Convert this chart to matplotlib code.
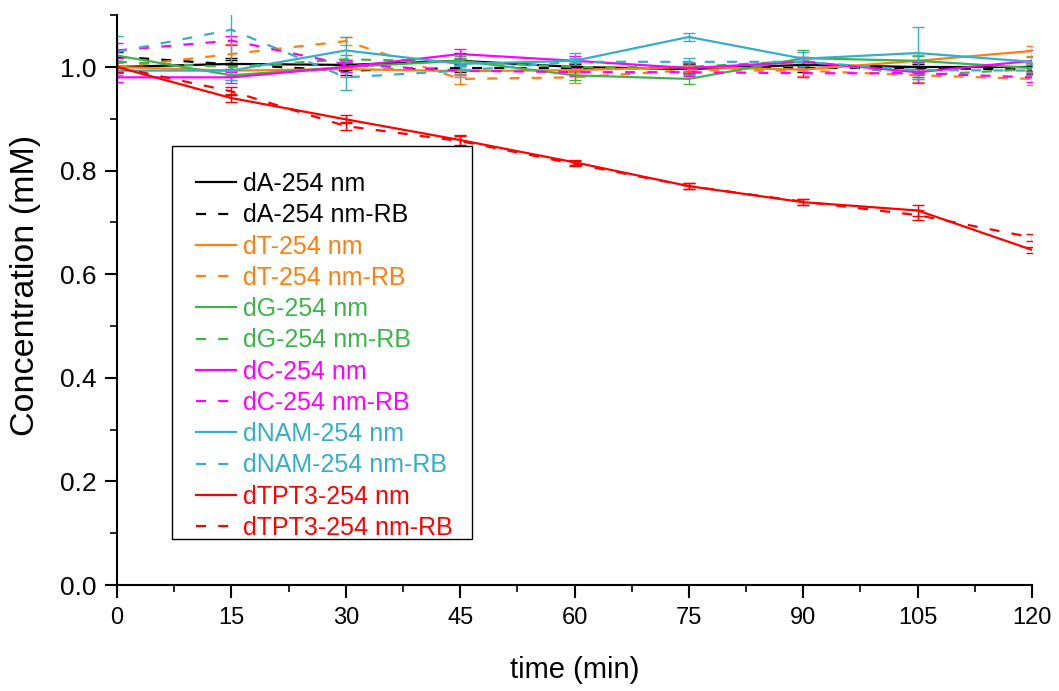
import matplotlib
matplotlib.use("Agg")
import matplotlib.pyplot as plt
from matplotlib.ticker import MultipleLocator
from matplotlib.patches import Rectangle
import numpy as np

t = [0, 15, 30, 45, 60, 75, 90, 105, 120]

dA      = [1.000, 1.006, 1.004, 1.012, 1.000, 0.996, 1.004, 1.000, 1.000]
dA_RB   = [1.020, 1.005, 0.993, 0.998, 0.998, 0.998, 0.998, 0.998, 0.995]
dT      = [1.000, 0.993, 0.996, 0.992, 0.994, 1.000, 0.995, 1.012, 1.031]
dT_RB   = [1.000, 1.025, 1.050, 0.977, 0.980, 0.994, 0.993, 0.984, 0.977]
dG      = [1.022, 0.984, 1.000, 1.012, 0.984, 0.977, 1.017, 1.012, 0.998]
dG_RB   = [1.010, 1.000, 1.015, 1.010, 1.000, 1.000, 1.012, 0.984, 0.996]
dC      = [0.980, 0.980, 1.000, 1.025, 1.012, 0.998, 1.010, 0.990, 1.012]
dC_RB   = [1.032, 1.051, 1.005, 0.993, 0.990, 0.990, 0.988, 0.988, 0.980]
dNAM    = [0.993, 0.993, 1.032, 1.006, 1.012, 1.058, 1.016, 1.027, 1.010]
dNAM_RB = [1.029, 1.072, 0.980, 0.993, 1.010, 1.010, 1.010, 0.994, 0.993]
dTPT3   = [1.000, 0.940, 0.899, 0.859, 0.816, 0.770, 0.739, 0.723, 0.647]
dTPT3_RB= [1.000, 0.953, 0.886, 0.857, 0.813, 0.770, 0.740, 0.714, 0.671]

err_small  = [0.008, 0.008, 0.008, 0.008, 0.008, 0.008, 0.008, 0.008, 0.008]
err_dA     = [0.010, 0.012, 0.010, 0.015, 0.008, 0.008, 0.008, 0.010, 0.008]
err_dT     = [0.010, 0.010, 0.015, 0.012, 0.010, 0.010, 0.015, 0.012, 0.010]
err_dT_RB  = [0.010, 0.020, 0.008, 0.010, 0.010, 0.010, 0.010, 0.012, 0.012]
err_dG     = [0.010, 0.010, 0.010, 0.010, 0.010, 0.010, 0.015, 0.010, 0.010]
err_dC     = [0.008, 0.010, 0.010, 0.010, 0.010, 0.010, 0.010, 0.020, 0.020]
err_dC_RB  = [0.015, 0.008, 0.008, 0.008, 0.008, 0.008, 0.008, 0.008, 0.008]
err_dNAM   = [0.008, 0.010, 0.025, 0.010, 0.015, 0.007, 0.012, 0.050, 0.010]
err_dNAM_RB= [0.030, 0.098, 0.025, 0.008, 0.008, 0.008, 0.008, 0.008, 0.008]
err_dTPT3  = [0.010, 0.008, 0.008, 0.010, 0.005, 0.006, 0.006, 0.010, 0.006]

labels = ["dA-254 nm", "dA-254 nm-RB", "dT-254 nm", "dT-254 nm-RB",
          "dG-254 nm", "dG-254 nm-RB", "dC-254 nm", "dC-254 nm-RB",
          "dNAM-254 nm", "dNAM-254 nm-RB", "dTPT3-254 nm", "dTPT3-254 nm-RB"]
series = [dA, dA_RB, dT, dT_RB, dG, dG_RB, dC, dC_RB, dNAM, dNAM_RB, dTPT3, dTPT3_RB]
errors = [err_dA, err_small, err_dT, err_dT_RB, err_dG, err_small, err_dC, err_dC_RB,
          err_dNAM, err_dNAM_RB, err_dTPT3, err_dTPT3]
colors = ["#000000", "#000000", "#FF7F0E", "#FF7F0E", "#3BB44A", "#3BB44A",
          "#FF00FF", "#FF00FF", "#35AECA", "#35AECA", "#FF0000", "#FF0000"]
styles = ["-", "--"] * 6

plt.rcParams['font.family'] = ['Liberation Sans', 'DejaVu Sans']

fig = plt.figure(figsize=(10.59, 6.91), dpi=100)
ax = fig.add_axes([0.1105, 0.1534, 0.8640, 0.8246])

handles = []
for y, e, c, ls, lab in zip(series, errors, colors, styles, labels):
    eb = ax.errorbar(t, y, yerr=e, color=c, lw=1.6, capsize=4, elinewidth=1.0,
                     capthick=1.0, label=lab)
    eb[0].set_linestyle(ls)
    if ls == "--":
        eb[0].set_dashes((4.5, 5.5))
    handles.append(eb[0])

ax.set_xlim(0, 120)
ax.set_ylim(0, 1.1)
ax.xaxis.set_major_locator(MultipleLocator(15))
ax.xaxis.set_minor_locator(MultipleLocator(7.5))
ax.yaxis.set_minor_locator(MultipleLocator(0.1))
ax.set_yticks([0, 0.2, 0.4, 0.6, 0.8, 1.0])
ax.set_yticklabels(["0.0", "0.2", "0.4", "0.6", "0.8", "1.0"])

for s in ["top", "right"]:
    ax.spines[s].set_visible(False)
for s in ["left", "bottom"]:
    ax.spines[s].set_linewidth(1.5)

ax.tick_params(axis="both", which="major", direction="out", length=9, width=1.5)
ax.tick_params(axis="both", which="minor", direction="out", length=5, width=1.2)
ax.tick_params(axis="y", which="major", labelsize=19, pad=6)
ax.tick_params(axis="x", which="major", labelsize=17, pad=7)

ax.set_ylabel("Concentration (mM)", fontsize=24.5)
ax.set_xlabel("time (min)", fontsize=21)
ax.yaxis.set_label_coords(-0.083, 0.526)
ax.xaxis.set_label_coords(0.5, -0.125)

# legend frame (drawn separately for the asymmetric padding of the original)
ax.add_patch(Rectangle((0.0601, 0.0807), 0.3279, 0.6895, transform=ax.transAxes,
                       facecolor="white", edgecolor="black", lw=1.0, zorder=4))

leg = ax.legend(handles=handles, labels=labels, loc="upper left",
                bbox_to_anchor=(0.0863, 0.7246), borderaxespad=0, borderpad=0,
                fontsize=18, frameon=False,
                handlelength=1.6, handletextpad=0.28, labelspacing=0.29)
leg.set_zorder(5)
for txt, c in zip(leg.get_texts(), colors):
    txt.set_color(c)

fig.savefig("out.png", dpi=100)
